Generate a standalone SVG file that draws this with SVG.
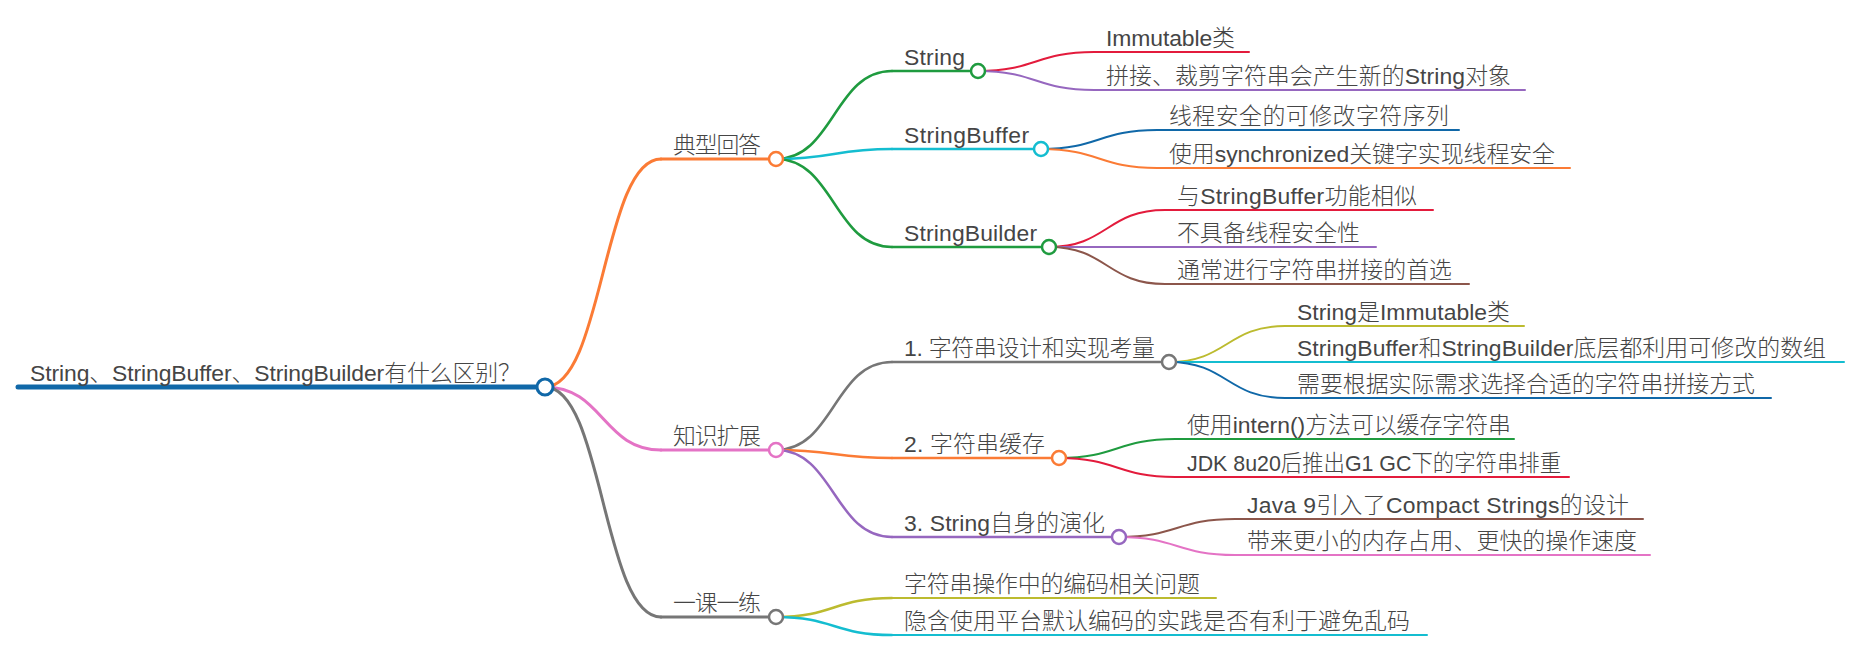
<svg xmlns="http://www.w3.org/2000/svg" width="1857" height="654" viewBox="0 0 1857 654">
<style>
text{font-family:"Liberation Sans","Noto Sans CJK SC",sans-serif;font-size:22.9px;font-weight:300;fill:#454545}
path,line{fill:none;stroke-linecap:round}
circle{fill:#fff}
.w1{stroke-width:3}.w2{stroke-width:2.5}.w3{stroke-width:2}
.blue{stroke:#1068a8}.orange{stroke:#fb7b35}.green{stroke:#1f9b3f}.red{stroke:#e31b3c}.purple{stroke:#9667bf}
.cyan{stroke:#14bdd0}.brown{stroke:#8c564b}.pink{stroke:#e473c5}.gray{stroke:#767676}.olive{stroke:#bcbb2f}
</style>
<rect width="1857" height="654" fill="#fff"/>
<g id="connectors">
<path class="w1 orange" d="M545,387 C603,387 603,159 661,159"/>
<path class="w1 pink" d="M545,387 C603,387 603,450 661,450"/>
<path class="w1 gray" d="M545,387 C603,387 603,617 661,617"/>
<path class="w2 green" d="M776,159 C834,159 834,71 892,71"/>
<path class="w2 cyan" d="M776,159 C834,159 834,149 892,149"/>
<path class="w2 green" d="M776,159 C834,159 834,247 892,247"/>
<path class="w3 red" d="M978,71 C1036,71 1036,52 1094,52"/>
<path class="w3 purple" d="M978,71 C1036,71 1036,90 1094,90"/>
<path class="w3 blue" d="M1041,149 C1099,149 1099,130 1157,130"/>
<path class="w3 orange" d="M1041,149 C1099,149 1099,168 1157,168"/>
<path class="w3 red" d="M1049,247 C1107,247 1107,210 1165,210"/>
<path class="w3 purple" d="M1049,247 L1165,247"/>
<path class="w3 brown" d="M1049,247 C1107,247 1107,284 1165,284"/>
<path class="w2 gray" d="M776,450 C834,450 834,362 892,362"/>
<path class="w2 orange" d="M776,450 C834,450 834,458 892,458"/>
<path class="w2 purple" d="M776,450 C834,450 834,537 892,537"/>
<path class="w3 olive" d="M1169,362 C1227,362 1227,326 1285,326"/>
<path class="w3 cyan" d="M1169,362 L1285,362"/>
<path class="w3 blue" d="M1169,362 C1227,362 1227,398 1285,398"/>
<path class="w3 green" d="M1059,458 C1117,458 1117,439 1175,439"/>
<path class="w3 red" d="M1059,458 C1117,458 1117,477 1175,477"/>
<path class="w3 brown" d="M1119,537 C1177,537 1177,519 1235,519"/>
<path class="w3 pink" d="M1119,537 C1177,537 1177,555 1235,555"/>
<path class="w2 olive" d="M776,617 C834,617 834,598 892,598"/>
<path class="w2 cyan" d="M776,617 C834,617 834,635 892,635"/>
</g>
<g id="root">
<line class="blue" stroke-width="5" x1="18" y1="387" x2="545" y2="387"/>
<text x="30" y="381" textLength="491">String、StringBuffer、StringBuilder有什么区别？</text>
<circle class="blue" stroke-width="3" cx="545" cy="387" r="8"/>
</g>
<g id="n-typical">
<line class="w1 orange" x1="661" y1="159" x2="776" y2="159"/>
<text x="673" y="153" textLength="88">典型回答</text>
<circle class="w2 orange" cx="776" cy="159" r="7"/>
</g>
<g id="n-string">
<line class="w2 green" x1="892" y1="71" x2="978" y2="71"/>
<text x="904" y="65" textLength="61">String</text>
<circle class="w2 green" cx="978" cy="71" r="7"/>
</g>
<g id="n-immutable">
<line class="w3 red" x1="1094" y1="52" x2="1249" y2="52"/>
<text x="1106" y="46" textLength="129">Immutable类</text>
</g>
<g id="n-concat">
<line class="w3 purple" x1="1094" y1="90" x2="1525" y2="90"/>
<text x="1106" y="84" textLength="405">拼接、裁剪字符串会产生新的String对象</text>
</g>
<g id="n-stringbuffer">
<line class="w2 cyan" x1="892" y1="149" x2="1041" y2="149"/>
<text x="904" y="143" textLength="125">StringBuffer</text>
<circle class="w2 cyan" cx="1041" cy="149" r="7"/>
</g>
<g id="n-threadsafe-seq">
<line class="w3 blue" x1="1157" y1="130" x2="1459" y2="130"/>
<text x="1169" y="124" textLength="280">线程安全的可修改字符序列</text>
</g>
<g id="n-synchronized">
<line class="w3 orange" x1="1157" y1="168" x2="1570" y2="168"/>
<text x="1169" y="162" textLength="386">使用synchronized关键字实现线程安全</text>
</g>
<g id="n-stringbuilder">
<line class="w2 green" x1="892" y1="247" x2="1049" y2="247"/>
<text x="904" y="241" textLength="133">StringBuilder</text>
<circle class="w2 green" cx="1049" cy="247" r="7"/>
</g>
<g id="n-similar">
<line class="w3 red" x1="1165" y1="210" x2="1433" y2="210"/>
<text x="1177" y="204" textLength="240">与StringBuffer功能相似</text>
</g>
<g id="n-not-safe">
<line class="w3 purple" x1="1165" y1="247" x2="1376" y2="247"/>
<text x="1177" y="241" textLength="183">不具备线程安全性</text>
</g>
<g id="n-preferred">
<line class="w3 brown" x1="1165" y1="284" x2="1469" y2="284"/>
<text x="1177" y="278" textLength="275">通常进行字符串拼接的首选</text>
</g>
<g id="n-knowledge">
<line class="w1 pink" x1="661" y1="450" x2="776" y2="450"/>
<text x="673" y="444" textLength="88">知识扩展</text>
<circle class="w2 pink" cx="776" cy="450" r="7"/>
</g>
<g id="n-design">
<line class="w2 gray" x1="892" y1="362" x2="1169" y2="362"/>
<text x="904" y="356" textLength="251">1. 字符串设计和实现考量</text>
<circle class="w2 gray" cx="1169" cy="362" r="7"/>
</g>
<g id="n-string-immutable">
<line class="w3 olive" x1="1285" y1="326" x2="1524" y2="326"/>
<text x="1297" y="320" textLength="213">String是Immutable类</text>
</g>
<g id="n-array">
<line class="w3 cyan" x1="1285" y1="362" x2="1844" y2="362"/>
<text x="1297" y="356" textLength="529">StringBuffer和StringBuilder底层都利用可修改的数组</text>
</g>
<g id="n-choose">
<line class="w3 blue" x1="1285" y1="398" x2="1771" y2="398"/>
<text x="1297" y="392" textLength="458">需要根据实际需求选择合适的字符串拼接方式</text>
</g>
<g id="n-cache">
<line class="w2 orange" x1="892" y1="458" x2="1059" y2="458"/>
<text x="904" y="452" textLength="141">2. 字符串缓存</text>
<circle class="w2 orange" cx="1059" cy="458" r="7"/>
</g>
<g id="n-intern">
<line class="w3 green" x1="1175" y1="439" x2="1514" y2="439"/>
<text x="1187" y="433" textLength="324">使用intern()方法可以缓存字符串</text>
</g>
<g id="n-dedup">
<line class="w3 red" x1="1175" y1="477" x2="1569" y2="477"/>
<text x="1187" y="471" textLength="374" lengthAdjust="spacingAndGlyphs">JDK 8u20后推出G1 GC下的字符串排重</text>
</g>
<g id="n-evolution">
<line class="w2 purple" x1="892" y1="537" x2="1119" y2="537"/>
<text x="904" y="531" textLength="201">3. String自身的演化</text>
<circle class="w2 purple" cx="1119" cy="537" r="7"/>
</g>
<g id="n-compact">
<line class="w3 brown" x1="1235" y1="519" x2="1643" y2="519"/>
<text x="1247" y="513" textLength="382">Java 9引入了Compact Strings的设计</text>
</g>
<g id="n-smaller">
<line class="w3 pink" x1="1235" y1="555" x2="1650" y2="555"/>
<text x="1247" y="549" textLength="390">带来更小的内存占用、更快的操作速度</text>
</g>
<g id="n-practice">
<line class="w1 gray" x1="661" y1="617" x2="776" y2="617"/>
<text x="673" y="611" textLength="88">一课一练</text>
<circle class="w2 gray" cx="776" cy="617" r="7"/>
</g>
<g id="n-encoding">
<line class="w3 olive" x1="892" y1="598" x2="1216" y2="598"/>
<text x="904" y="592" textLength="296">字符串操作中的编码相关问题</text>
</g>
<g id="n-default-encoding">
<line class="w3 cyan" x1="892" y1="635" x2="1427" y2="635"/>
<text x="904" y="629" textLength="506">隐含使用平台默认编码的实践是否有利于避免乱码</text>
</g>
</svg>
